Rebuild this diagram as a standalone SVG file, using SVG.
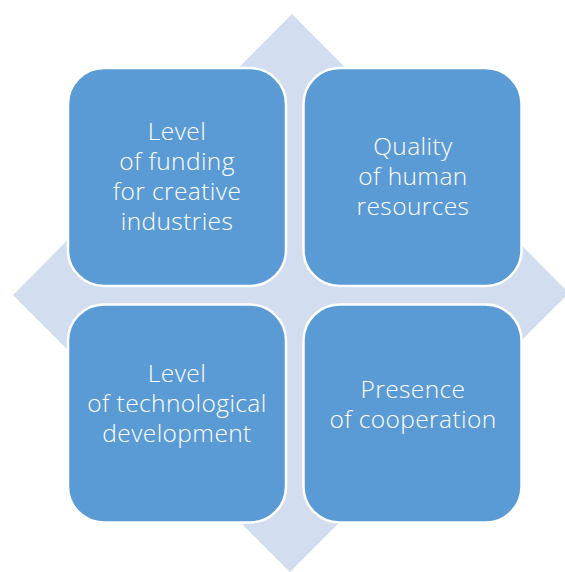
<svg xmlns="http://www.w3.org/2000/svg" width="565" height="572" viewBox="0 0 565 572">
<style>
.box{fill:#5B9BD5;stroke:#FFFFFF;stroke-width:2.5}
.t{fill:#FFFFFF;font-family:"Open Sans","Liberation Sans",sans-serif;font-weight:300;font-size:24.5px;letter-spacing:0.4px;text-anchor:middle}
</style>
<rect width="565" height="572" fill="#FFFFFF"/>
<g id="background">
<polygon points="292,14 569,293 290,572 13,295" fill="#D2DEEF"/>
</g>
<g id="connectors"></g>
<g id="node1">
<rect class="box" x="68" y="68" width="218" height="218" rx="36"/>
<text class="t"><tspan x="177" y="140">Level</tspan><tspan x="177" y="170">of funding</tspan><tspan x="177" y="200">for creative</tspan><tspan x="177" y="230">industries</tspan></text>
</g>
<g id="node2">
<rect class="box" x="303.5" y="68" width="218" height="218" rx="36"/>
<text class="t"><tspan x="413" y="155">Quality</tspan><tspan x="413" y="185">of human</tspan><tspan x="413" y="215">resources</tspan></text>
</g>
<g id="node3">
<rect class="box" x="68" y="304.5" width="218" height="218" rx="36"/>
<text class="t"><tspan x="177" y="382">Level</tspan><tspan x="177" y="412">of technological</tspan><tspan x="177" y="442">development</tspan></text>
</g>
<g id="node4">
<rect class="box" x="303.5" y="304.5" width="218" height="218" rx="36"/>
<text class="t"><tspan x="413" y="398">Presence</tspan><tspan x="413" y="428">of cooperation</tspan></text>
</g>
</svg>
